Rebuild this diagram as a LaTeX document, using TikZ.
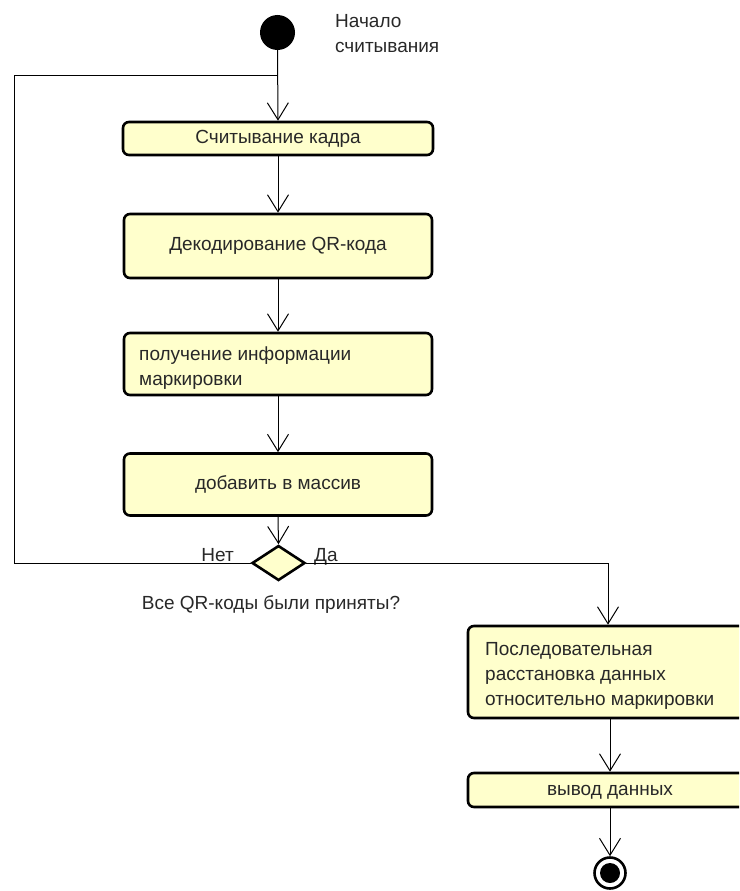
\documentclass[tikz,border=0pt]{standalone}
\usepackage{fontspec}
\setmainfont{Liberation Sans}
\usetikzlibrary{arrows.meta,shapes.geometric}
\definecolor{actfill}{RGB}{255,255,204}
\definecolor{txt}{RGB}{40,40,40}
\tikzset{
  act/.style={draw=black, line width=2.6pt, fill=actfill, rounded corners=6pt, inner sep=0pt, text=txt, font=\fontsize{19}{25}\selectfont},
  flow/.style={line width=1pt, -{Straight Barb[length=17pt,width=21pt,line width=1pt]}},
  plain/.style={line width=1pt},
  lbl/.style={text=txt, font=\fontsize{19}{25}\selectfont, inner sep=0pt},
}
\begin{document}
\begin{tikzpicture}[x=1pt,y=-1pt]
\useasboundingbox (0,0) rectangle (739,891);
\clip (0,0) rectangle (739,891);
% start
\node (start) [circle, fill=black, minimum size=35pt, inner sep=0pt] at (277.5,32.5) {};
\node (startlbl) [lbl, anchor=west, align=left] at (335,34) {Начало\\считывания};
% boxes
\node (b1) [act, minimum width=310pt, minimum height=33pt] at (278,138.5) {Считывание кадра};
\node (b2) [act, minimum width=308pt, minimum height=64pt] at (278,246) {Декодирование QR-кода};
\node (b3) [act, minimum width=308pt, minimum height=62pt] at (278,364) {};
\node (b3t) [lbl, anchor=west, align=left] at (139,368) {получение информации\\маркировки};
\node (b4) [act, minimum width=308pt, minimum height=62pt] at (278,484.5) {добавить в массив};
% decision
\node (dec) [diamond, draw=black, line width=2.6pt, fill=actfill, minimum width=53pt, minimum height=35pt, inner sep=0pt] at (278.5,563) {};
\node (net) [lbl, anchor=base east] at (234,561) {Нет};
\node (da) [lbl, anchor=base west] at (314,561) {Да};
\node (declbl) [lbl] at (271,604) {Все QR-коды были приняты?};
% right column
\node (b5) [act, minimum width=290pt, minimum height=92pt] at (613,672) {};
\node (b5t) [lbl, anchor=west, align=left] at (485,676) {Последовательная\\расстановка данных\\относительно маркировки};
\node (b6) [act, minimum width=290pt, minimum height=34pt] at (613,790) {};
\node (b6t) [lbl] at (610,792) {вывод данных};
% end
\node (end) [circle, draw=black, line width=2.6pt, minimum size=31pt, inner sep=0pt] at (610,873) {};
\node (endin) [circle, fill=black, minimum size=20pt, inner sep=0pt] at (610,873) {};
% connectors
\coordinate (loopTop) at (277.5,75);
\coordinate (loopTL) at (14,75);
\coordinate (loopBL) at (14,563);
\coordinate (rightTurn) at (608,563);
\draw[flow] (start.south) -- (b1.north);
\draw[flow] (b1.south) -- (b2.north);
\draw[flow] (b2.south) -- (b3.north);
\draw[flow] (b3.south) -- (b4.north);
\draw[flow] (b4.south) -- (dec.north);
\draw[plain] (dec.west) -- (loopBL) -- (loopTL) -- (loopTop);
\draw[flow] (dec.east) -- (rightTurn) -- (rightTurn |- b5.north);
\draw[flow] (b5.south -| 610,0) -- (b6.north -| 610,0);
\draw[flow] (b6.south -| 610,0) -- (end.north);
\end{tikzpicture}
\end{document}
